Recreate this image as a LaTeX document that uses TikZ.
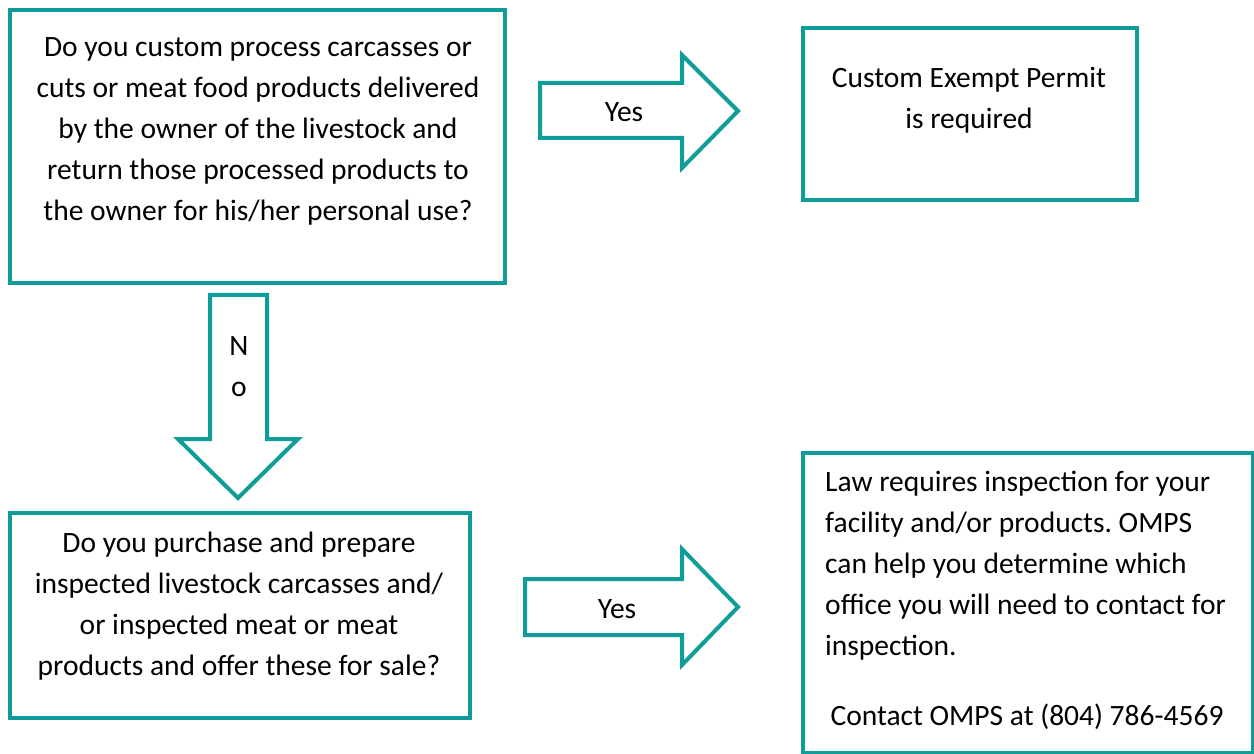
\documentclass[tikz,border=0pt]{standalone}
\usepackage{fontspec}
\setmainfont{Carlito}
\frenchspacing
\definecolor{teal1}{RGB}{14,157,152}
\tikzset{
  box/.style={draw=teal1, line width=4pt, line join=miter},
  blockarrow/.style={draw=teal1, line width=4pt, line join=miter, fill=white},
  txt/.style={inner sep=0pt, font=\fontsize{29.5}{41}\selectfont, align=center, anchor=north},
}
\begin{document}
\begin{tikzpicture}[x=1pt,y=-1pt]
\useasboundingbox (0,0) rectangle (1254,754);
% boxes
\draw[box] (10,10) rectangle (505,283);
\draw[box] (803,28) rectangle (1137,200);
\draw[box] (10,513) rectangle (470,718);
\draw[box] (803,453) rectangle (1253,753);
% texts
\node[txt] (t1) at (258,37) {Do you custom process carcasses or\\cuts or meat food products delivered\\by the owner of the livestock and\\return those processed products to\\the owner for his/her personal use?};
\node[txt] (t2) at (969,67) {Custom Exempt Permit\\is required};
\node[txt] (t3) at (239,532) {Do you purchase and prepare\\inspected livestock carcasses and/\\or inspected meat or meat\\products and offer these for sale?};
\node[txt, anchor=north west, align=left] (t4) at (825,471) {Law requires inspection for your\\facility and/or products. OMPS\\can help you determine which\\office you will need to contact for\\inspection.};
\node[txt] (t5) at (1027,704) {Contact OMPS at (804) 786-4569};
% block arrows
\draw[blockarrow] (540,83) -- (682,83) -- (682,55) -- (738,111) -- (682,168) -- (682,138) -- (540,138) -- cycle;
\node[txt] (y1) at (624,102) {Yes};
\draw[blockarrow] (525,579) -- (682,579) -- (682,549) -- (738,607) -- (682,665) -- (682,635) -- (525,635) -- cycle;
\node[txt] (y2) at (617,599) {Yes};
\draw[blockarrow] (210,295) -- (267,295) -- (267,439) -- (298,439) -- (238,498) -- (178,439) -- (210,439) -- cycle;
\node[txt] (no) at (239,336) {N\\o};
\end{tikzpicture}
\end{document}
